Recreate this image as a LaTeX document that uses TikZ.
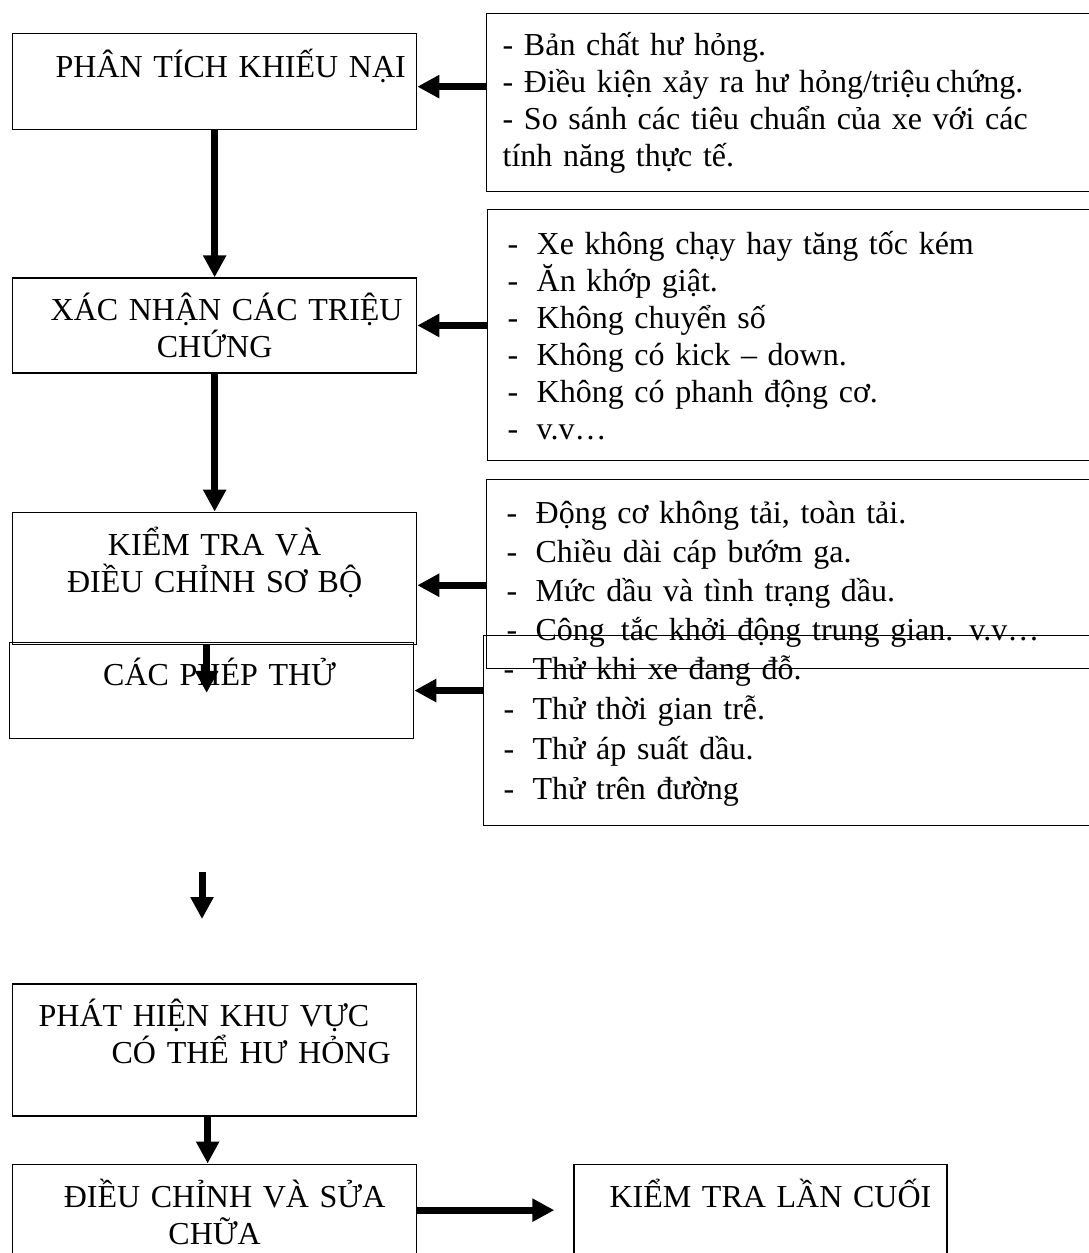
\documentclass[tikz,border=0pt]{standalone}
\usepackage{fontspec}
\setmainfont{Liberation Serif}
\usetikzlibrary{arrows.meta,positioning}

\newcommand{\lidash}{\makebox[29pt][l]{-}}

\begin{document}
\begin{tikzpicture}[x=1pt, y=-1pt,
  cdbox/.style={draw=black, line width=1.3pt, align=center, font=\fontsize{32}{37}\selectfont, inner xsep=4pt, inner ysep=4pt, text width=396pt},
  cdnote/.style={draw=black, line width=1.3pt, align=left, anchor=north west, font=\fontsize{32}{37}\selectfont, inner xsep=20pt, text width=580pt},
  cdarr/.style={-{Triangle[length=22pt,width=22pt]}, line width=7pt}
]
\useasboundingbox (0,0) rectangle (1088,1253);
% left column
\node[cdbox, anchor=north west, minimum height=96pt, align=left] (b1) at (12,33) {\hspace*{39pt}PHÂN TÍCH KHIẾU NẠI\\ \mbox{}};
\node[cdbox, below=147pt of b1, minimum height=95pt] (b2) {\hspace*{24pt}XÁC NHẬN CÁC TRIỆU\\ CHỨNG};
\node[cdbox, below=138pt of b2, minimum height=132pt] (b3) {KIỂM TRA VÀ\\ ĐIỀU CHỈNH SƠ BỘ\\ \mbox{}};
\node[cdbox, below=-3pt of b3, xshift=-3pt, minimum height=96pt] (b4) {\hspace*{16pt}CÁC PHÉP THỬ\\ \mbox{}};
\node[cdbox, below=244pt of b4, xshift=3pt, minimum height=132pt, align=left] (b5) {\hspace*{22pt}PHÁT HIỆN KHU VỰC\\ \hspace*{95pt}CÓ THỂ HƯ HỎNG\\ \mbox{}};
\node[cdbox, below=47pt of b5, minimum height=132pt] (b6) {\hspace*{20pt}ĐIỀU CHỈNH VÀ SỬA\\ CHỮA\\ \mbox{}};
\node[cdbox, right=156pt of b6, text width=365pt, minimum height=132pt] (b7) {\hspace*{20pt}KIỂM TRA LẦN CUỐI\\ \mbox{}\\ \mbox{}};

% notes on the right
\node[cdnote, inner xsep=16pt, minimum height=178pt] (r1) at (486,13) {- Bản chất hư hỏng.\\
- Điều kiện xảy ra hư hỏng/triệu\,chứng.\\
- So sánh các tiêu chuẩn của xe với các\\
tính năng thực tế.};
\node[cdnote, minimum height=251pt] (r2) at (487,209) {\lidash Xe không chạy hay tăng tốc kém\\
\lidash Ăn khớp giật.\\
\lidash Không chuyển số\\
\lidash Không có kick – down.\\
\lidash Không có phanh động cơ.\\
\lidash v.v…};
\node[cdnote, minimum height=189pt, font=\fontsize{32}{39}\selectfont] (r3) at (486,479) {\lidash Động cơ không tải, toàn tải.\\
\lidash Chiều dài cáp bướm ga.\\
\lidash Mức dầu và tình trạng dầu.\\
\lidash Công\, tắc khởi động trung gian. v.v…};
\node[cdnote, minimum height=190pt, font=\fontsize{32}{40}\selectfont] (r4) at (483,635) {\lidash Thử khi xe đang đỗ.\\
\lidash Thử thời gian trễ.\\
\lidash Thử áp suất dầu.\\
\lidash Thử trên đường};

% connectors
\coordinate (k4) at ([xshift=-8pt, yshift=-48pt]b3.south);
\coordinate (g1) at (202,872);
\coordinate (g2) at (202,919);
\draw[cdarr, transform canvas={yshift=-5pt}] (r1.west |- b1.east) -- (b1.east);
\draw[cdarr] (r2.west |- b2.east) -- (b2.east);
\draw[cdarr, transform canvas={yshift=-7pt}] (r3.west |- b3.east) -- (b3.east);
\draw[cdarr] (r4.west |- b4.east) -- (b4.east);
\draw[cdarr] (b1.south) -- (b2.north);
\draw[cdarr] (b2.south) -- (b3.north);
\draw[cdarr] (b3.south -| k4) -- (k4);
\draw[cdarr] (g1) -- (g2);
\draw[cdarr] ([xshift=-7pt]b5.south) -- ([xshift=-7pt]b6.north);
\draw[cdarr] ([yshift=20pt]b6.east) -- ([xshift=-19pt,yshift=20pt]b7.west);
\end{tikzpicture}
\end{document}
